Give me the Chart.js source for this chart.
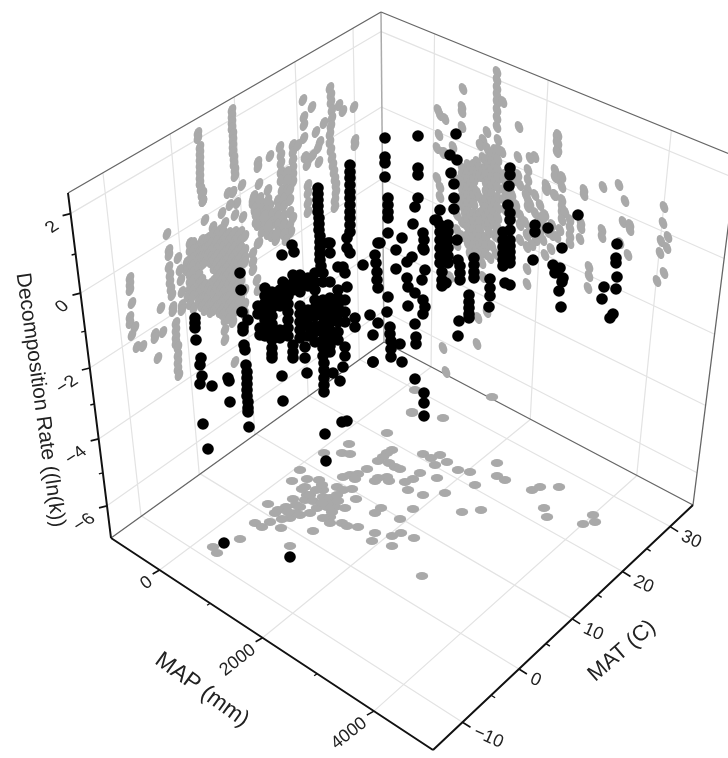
<!DOCTYPE html>
<html>
<head>
<meta charset="utf-8">
<title>Decomposition rate vs MAP and MAT</title>
<script src="https://cdn.jsdelivr.net/npm/chart.js@4"></script>
<style>
  html, body { margin: 0; padding: 0; background: #fff; overflow: hidden; }
  canvas { display: block; filter: blur(0.4px); }
</style>
</head>
<body>
<canvas id="chart" width="728" height="758"></canvas>
<script>
// axis ticks
const mapTicks = [0, 2000, 4000];
const mapMinorTicks = [1000, 3000];
const matTicks = [-10, 0, 10, 20, 30];
const matMinorTicks = [-5, 5, 15, 25];
const rateTicks = [2, 0, -2, -4, -6];
const rateMinorTicks = [1, -1, -3, -5];

// values, [across, down] in the drawing plane
const leftWallPoints = [
  [130,278],[130,284],[130,290],[132,303],[130,317],[130,323],[135,327],[132,335],[137,347],[143,346],
  [155,334],[155,338],[163,332],[158,358],[161,308],[167,234],[169,250],[169,255],[169,267],[170,275],
  [170,282],[171,289],[172,295],[173,307],[173,311],[176,323],[176,330],[176,337],[176,343],[178,347],
  [178,355],[178,362],[178,369],[179,375],[178,258],[180,270],[181,280],[182,292],[182,305],[182,310],
  [205,220],[222,213],[225,223],[235,215],[243,217],[237,203],[230,205],[233,192],[228,193],[203,193],
  [203,201],[213,227],[253,203],[255,210],[258,225],[258,243],[253,253],[253,262],[253,270],[257,280],
  [258,290],[225,320],[225,330],[225,340],[233,322],[235,362],[210,310],[198,133],[198,138],
  [200,147],[200,153],[200,159],[200,165],[200,171],[200,177],[200,183],[201,189],[202,195],[203,201],
  [232,110],[232,116],[232,122],[232,128],[233,134],[233,140],[233,146],[233,152],[234,158],[234,164],[235,170],[235,176],
  [242,185],[233,192],[258,162],[258,167],[270,156],[259,184],[268,190],[280,147],[281,155],[281,163],[281,172],[281,180],[282,190],
  [293,145],[293,152],[293,160],[293,168],[293,175],[293,182],[287,172],[287,180],[287,190],[287,198],
  [187,262],[187,270],[190,243],[190,250],[190,260],[190,267],[190,274],[190,281],[190,288],[188,296],[190,304],[194,308],
  [193,243],[193,250],[193,258],[193,265],[193,272],[193,280],[193,290],[193,296],
  [199,245],[199,252],[199,258],[199,266],[199,275],[199,283],[199,292],[199,300],
  [202,240],[202,250],[202,256],[202,280],[202,288],[202,298],[202,306],[203,264],
  [205,240],[205,248],[205,255],[205,262],[205,285],[205,296],[205,303],[205,310],
  [208,238],[208,246],[208,254],[208,288],[208,296],[208,306],
  [211,236],[211,243],[211,250],[211,257],[211,262],[211,283],[211,290],[211,303],[211,312],
  [214,232],[214,246],[214,258],[214,268],[214,280],[214,292],[214,302],[214,310],
  [217,234],[217,240],[217,248],[217,255],[217,262],[217,270],[217,278],[217,286],[217,298],[217,306],
  [220,230],[220,244],[220,258],[220,266],[220,274],[220,282],[220,290],[220,304],[220,312],
  [223,232],[223,240],[223,246],[223,254],[223,262],[223,270],[223,277],[223,285],[223,292],[223,300],[223,308],[223,314],
  [226,236],[226,250],[226,260],[226,268],[226,276],[226,288],[226,298],[226,310],
  [229,233],[229,240],[229,248],[229,256],[229,264],[229,272],[229,282],[229,296],[229,304],[229,312],[229,318],
  [232,236],[232,250],[232,258],[232,268],[232,276],[232,286],[232,300],[232,308],
  [235,232],[235,240],[235,246],[235,254],[235,262],[235,270],[235,278],[235,288],[235,296],[235,304],[235,312],
  [238,236],[238,250],[238,260],[238,272],[238,284],[238,294],[238,304],
  [241,232],[241,240],[241,248],[241,256],[241,264],[241,274],[241,282],[241,290],[241,300],[241,310],
  [245,236],[245,250],[245,258],[245,262],[245,290],[245,304],[245,314],
  [253,200],[255,208],[259,214],[262,204],[266,210],[266,218],[270,206],[272,214],[272,222],[278,200],
  [278,208],[278,216],[278,224],[278,232],[284,198],[284,206],[284,216],[284,224],[270,228],[290,190],
  [290,200],[290,212],[268,234],[272,236],[260,220],[264,226],[293,218],[290,225],[291,232],[259,243],
  [256,222],[262,232],[268,226],[276,240],[284,234],[254,196],[260,198],[268,200],[256,214],[264,216],[276,234],[286,240],
  [303,100],[312,107],[304,117],[304,125],[324,123],[316,132],[304,138],[298,145],
  [330,88],[331,95],[331,102],[332,110],[332,118],[331,126],[330,134],[330,142],[331,150],[332,158],[333,165],[334,172],[335,179],[336,185],[336,192],[335,200],[335,207],
  [339,105],[343,111],[354,107],[355,140],[355,145],[320,142],[318,148],[319,162],[310,158],[305,157],[313,155],[307,165],
  [308,185],[308,193],[308,203],[308,212]
];

const rightWallPoints = [
  [497,72],[497,80],[497,88],[497,95],[497,102],[497,110],[497,118],[497,127],[503,102],[463,89],
  [462,107],[462,112],[462,127],[438,110],[440,115],[445,119],[439,135],[453,147],[437,148],[445,153],
  [443,153],[519,127],[487,132],[483,140],[480,145],[487,148],[498,140],[502,152],[518,157],[535,157],
  [530,158],[528,170],[528,180],[528,190],[528,200],[528,207],[557,137],[557,143],[558,150],[555,170],
  [557,178],[547,187],[554,195],[437,178],[440,197],[440,187],
  [457,180],[457,200],[457,215],[457,230],[457,245],
  [462,168],[462,175],[462,182],[462,190],[462,198],[462,206],[462,222],[462,236],
  [465,170],[465,186],[465,200],[465,214],[465,224],
  [468,165],[468,172],[468,180],[468,188],[468,196],[468,204],[468,212],[468,220],[468,228],[468,236],[468,244],
  [471,168],[471,184],[471,200],[471,216],[471,232],[471,248],
  [474,165],[474,172],[474,180],[474,188],[474,196],[474,204],[474,214],[474,222],[474,230],[474,238],[474,246],
  [477,162],[477,176],[477,192],[477,218],[477,234],[477,250],
  [480,168],[480,176],[480,198],[480,214],[480,222],[480,230],[480,238],[480,246],[480,254],
  [483,158],[483,172],[483,204],[483,212],[483,244],[483,252],
  [486,160],[486,168],[486,175],[486,184],[486,192],[486,200],[486,208],[486,218],[486,226],[486,238],[486,246],[486,254],
  [489,152],[489,166],[489,182],[489,196],[489,214],[489,224],[489,232],
  [492,155],[492,162],[492,170],[492,178],[492,186],[492,194],[492,202],[492,210],[492,220],[492,246],
  [495,150],[495,166],[495,182],[495,204],[495,226],[495,236],
  [498,150],[498,160],[498,170],[498,178],[498,188],[498,198],[498,208],[498,218],[498,228],[498,238],
  [504,180],[504,190],[504,200],[490,258],[496,254],[470,254],
  [510,190],[515,180],[505,175],[508,195],[514,212],[520,225],[505,210],[510,200],[535,195],[540,205],[545,215],[552,225],[552,235],[540,232],[505,235],[520,240],[527,235],
  [518,175],[520,185],[526,195],[530,204],[535,213],[541,222],[548,232],[512,195],[516,205],[520,215],[525,222],[530,232],[536,240],
  [558,135],[558,143],[557,152],[555,177],[562,177],[562,187],[546,185],[546,190],[555,195],[562,200],
  [562,207],[562,213],[565,212],[562,220],[570,220],[570,228],[570,236],[570,243],[557,237],[560,230],
  [543,217],[543,240],[551,249],[545,255],[584,190],[584,195],[581,223],[581,228],[580,239],[603,187],
  [619,185],[625,201],[623,222],[630,225],[630,230],[602,230],[602,237],[628,255],[620,243],[589,267],
  [589,276],[588,288],[664,207],[663,223],[668,237],[661,241],[667,248],[660,253],[664,273],[657,281],
  [527,269],[527,284],[478,318],[487,312],[443,348],[477,344],[446,372],[532,245],[527,247],[483,277],[482,263],[450,277]
];

const floorPoints = [
  [412,413],[387,433],[349,444],[342,453],[350,454],[324,453],[423,454],[431,458],[435,465],[392,450],
  [387,453],[383,457],[378,461],[389,463],[395,467],[400,469],[420,473],[413,479],[405,482],[437,478],
  [367,469],[300,470],[292,481],[307,479],[319,480],[343,477],[350,475],[358,474],[355,479],[378,478],
  [375,481],[387,477],[389,481],[305,487],[302,489],[322,485],[323,490],[337,487],[343,490],[352,489],
  [408,490],[423,495],[307,495],[293,499],[305,500],[313,501],[323,497],[330,498],[337,495],[356,499],
  [268,504],[286,507],[278,510],[275,513],[300,507],[317,508],[327,507],[335,507],[345,508],[381,508],
  [375,513],[413,509],[300,515],[290,518],[282,519],[270,522],[255,523],[262,527],[281,528],[313,531],
  [330,517],[323,518],[330,523],[342,523],[347,526],[358,527],[400,519],[375,533],[401,533],[392,536],
  [414,538],[372,541],[392,546],[240,539],[213,547],[217,553],[290,546],[422,576],
  [310,495],[316,490],[328,503],[322,503],[310,513],[296,513],[288,512],[296,505],[338,501],[332,512],
  [445,493],[462,512],[481,510],[532,490],[540,487],[559,487],[544,508],[547,517],[583,524],[593,515],[595,522],
  [440,455],[447,462],[458,470],[470,472],[497,463],[497,476],[475,485],[505,480],
  [415,390],[412,412],[443,418],[492,397]
];

const measuredPoints = [
  [195,318],[195,323],[195,328],[196,340],[201,358],[200,365],[202,376],[200,384],[212,386],[228,378],
  [229,381],[230,402],[203,424],[208,449],[224,543],[290,557],
  [240,273],[241,290],[242,312],[248,320],[243,327],[243,331],[244,345],[245,350],
  [246,365],[247,372],[247,378],[247,384],[247,390],[247,396],[248,402],[248,408],[248,412],[249,427],
  [282,376],[283,401],[307,373],[333,373],[340,381],[343,367],[325,434],[342,422],[347,421],[326,461],
  [373,362],[370,315],[373,335],[363,265],[378,243],[282,255],[292,245],[294,252],
  [258,306],[258,314],[260,328],[260,335],
  [265,288],[265,296],[265,303],[265,312],[265,320],[265,328],[265,336],
  [272,292],[272,300],[272,308],[272,316],[272,324],[272,332],[272,340],[272,348],[272,354],[272,358],
  [280,290],[280,298],[280,306],[280,330],[280,338],[283,282],
  [288,288],[288,296],[288,304],[288,312],[288,320],[288,328],[288,336],
  [293,275],[293,283],[293,290],[293,345],[293,352],[293,358],
  [300,275],[300,284],[300,292],[300,306],[300,314],[300,322],[300,330],[300,338],[305,347],[305,358],
  [308,278],[308,286],[308,310],[308,318],[308,326],[308,336],
  [315,273],[315,282],[315,290],[315,300],[315,308],[315,316],[315,326],[315,332],[315,342],
  [323,273],[323,282],[323,300],[323,308],[323,316],[323,324],[323,332],[323,340],[323,348],[323,356],
  [324,363],[324,370],[324,378],[324,385],[324,392],
  [330,282],[330,298],[330,306],[330,314],[330,322],[330,330],[330,338],[330,346],[330,352],
  [338,290],[338,298],[338,306],[338,314],[338,322],[338,332],[338,340],[345,300],[345,312],[345,322],[345,347],[345,356],
  [355,318],[355,327],
  [318,188],[318,194],[318,200],[318,206],[318,212],[319,218],[319,224],[319,230],[320,236],[320,242],[320,248],[320,254],[320,260],[321,266],
  [350,165],[350,172],[350,178],[350,185],[350,192],[350,198],[350,205],[350,212],[350,218],[350,225],[350,232],[347,238],[347,248],
  [330,243],[328,243],[330,253],[350,253],[343,267],[345,273],[347,287],[338,267],
  [385,138],[385,157],[385,163],[385,177],[418,136],[418,168],[418,175],[456,134],[450,155],[457,160],
  [451,173],[454,184],[454,198],[454,209],[388,198],[388,205],[388,212],[388,218],[418,198],[415,207],
  [413,224],[388,233],[380,243],[402,238],[396,250],[375,255],[412,257],[423,248],[437,220],[440,210],
  [510,168],[510,175],[509,186],[508,205],[510,213],[510,220],[503,232],[510,230],[535,225],[535,232],[548,228],[533,260],
  [578,215],[562,248],[553,265],[560,268],[555,273],[563,278],[562,282],[559,291],[561,307],[617,244],
  [616,258],[616,263],[617,277],[616,289],[604,287],[602,299],[613,314],[610,318],
  [376,263],[377,272],[377,280],[378,288],[388,297],[387,312],[378,323],
  [390,327],[390,334],[391,341],[391,349],[391,357],[400,344],[373,362],[402,362],
  [407,262],[396,269],[425,270],[422,280],[407,278],[408,287],[415,293],[423,300],[408,306],[425,307],
  [423,314],[415,324],[416,337],[416,344],[415,379],[424,393],[424,403],[424,416],[424,240],[424,250],[423,233],[435,220],
  [440,225],[440,232],[440,240],[440,248],[440,256],[440,263],[448,225],[448,232],[448,240],[448,248],[448,256],[448,263],
  [442,272],[442,280],[442,286],[446,283],[457,240],[458,260],[460,266],[460,273],[460,280],
  [474,258],[474,265],[474,272],[474,278],[490,279],[490,288],[490,296],[489,307],
  [469,295],[469,302],[469,308],[469,314],[469,318],[459,321],[458,336],[505,283],[510,285],
  [503,240],[503,247],[503,254],[503,260],[503,266],[510,240],[510,246],[510,252],[510,258],[510,263]
];

// drawing plane geometry of the box
const X = 728, Y = 758;
const floorFront = [433, 750], floorLeft = [111, 538], floorRight = [693, 505], floorBack = [384, 342];
const topLeft = [68, 193], topBack = [381, 12], topRight = [737, 157];
const mapRange = [-1000, 5000], matRange = [-15, 35], rateRange = [-7, 2.5];

// homography from the unit square onto a quad
function quadMap(p00, p10, p11, p01) {
  const dx1 = p10[0] - p11[0], dx2 = p01[0] - p11[0], sx = p00[0] - p10[0] + p11[0] - p01[0];
  const dy1 = p10[1] - p11[1], dy2 = p01[1] - p11[1], sy = p00[1] - p10[1] + p11[1] - p01[1];
  const den = dx1 * dy2 - dx2 * dy1;
  const g = (sx * dy2 - dx2 * sy) / den, h = (dx1 * sy - sx * dy1) / den;
  const a = p10[0] - p00[0] + g * p10[0], b = p01[0] - p00[0] + h * p01[0];
  const d = p10[1] - p00[1] + g * p10[1], e = p01[1] - p00[1] + h * p01[1];
  return function(u, v) {
    const w = g * u + h * v + 1;
    return { x: (a * u + b * v + p00[0]) / w, y: (d * u + e * v + p00[1]) / w };
  };
}

const floorMap = quadMap(floorLeft, floorFront, floorRight, floorBack);
const leftMap = quadMap(floorLeft, floorBack, topBack, topLeft);
const rightMap = quadMap(floorBack, floorRight, topRight, topBack);

const fMap = v => (v - mapRange[0]) / (mapRange[1] - mapRange[0]);
const fMat = v => (v - matRange[0]) / (matRange[1] - matRange[0]);
const fRate = v => (v - rateRange[0]) / (rateRange[1] - rateRange[0]);

function lineSet(segments, color, width, order) {
  const data = [];
  segments.forEach(s => { data.push(s[0], s[1], { x: NaN, y: NaN }); });
  return { type: 'scatter', data: data, showLine: true, spanGaps: false, borderColor: color, borderWidth: width,
    pointRadius: 0, order: order, clip: false };
}

function tickSegs(values, at, dx, dy) {
  return values.map(v => { const p = at(v); return [p, { x: p.x + dx, y: p.y + dy }]; });
}

const gridSegs = [];
mapTicks.forEach(v => {
  gridSegs.push([floorMap(fMap(v), 0), floorMap(fMap(v), 1)]);
  gridSegs.push([rightMap(fMap(v), 0), rightMap(fMap(v), 1)]);
});
matTicks.forEach(v => {
  gridSegs.push([floorMap(0, fMat(v)), floorMap(1, fMat(v))]);
  gridSegs.push([leftMap(fMat(v), 0), leftMap(fMat(v), 1)]);
});
rateTicks.forEach(v => {
  gridSegs.push([leftMap(0, fRate(v)), leftMap(1, fRate(v))]);
  gridSegs.push([rightMap(0, fRate(v)), rightMap(1, fRate(v))]);
});

const P = a => ({ x: a[0], y: a[1] });
const toXY = list => list.map(P);

const mapAt = v => floorMap(fMap(v), 0);
const matAt = v => floorMap(1, fMat(v));
const rateAt = v => leftMap(0, fRate(v));

function sprite(rx, ry, angle) {
  const c = document.createElement('canvas');
  c.width = 16; c.height = 16;
  const g = c.getContext('2d');
  g.fillStyle = '#a9a9a9';
  g.beginPath();
  g.ellipse(8, 8, rx, ry, angle, 0, Math.PI * 2);
  g.fill();
  return c;
}

function greySet(list, style) {
  return { data: toXY(list), pointStyle: style, pointRadius: 6, pointBorderWidth: 0, order: 30, clip: false };
}

const labelPlugin = {
  id: 'labels',
  afterDraw(chart) {
    const ctx = chart.ctx;
    function put(text, x, y, m, align, font) {
      ctx.save();
      ctx.setTransform(m[0], m[1], m[2], m[3], x, y);
      ctx.font = font;
      ctx.textAlign = align;
      ctx.textBaseline = 'middle';
      ctx.fillStyle = '#222';
      ctx.fillText(text, 0, 0);
      ctx.restore();
    }
    const rot = deg => { const r = deg * Math.PI / 180; return [Math.cos(r), Math.sin(r), -Math.sin(r), Math.cos(r)]; };
    const tickFont = '18px "Liberation Sans"';
    mapTicks.forEach(v => { const p = mapAt(v); put(String(v), p.x - 9, p.y + 10, rot(-38), 'right', tickFont); });
    matTicks.forEach(v => { const p = matAt(v); put(String(v).replace('-', '\u2212'), p.x + 12, p.y + 9, rot(24), 'left', tickFont); });
    rateTicks.forEach(v => { const p = rateAt(v); put(String(v).replace('-', '\u2212'), p.x - 14, p.y + 11, [0.85, -0.55, 0.7, 0.7], 'right', tickFont); });
    put('Decomposition Rate ((ln(k))', 40, 400, rot(82), 'center', '21px "Liberation Sans"');
    put('MAP (mm)', 202, 690, rot(36), 'center', '23px "Liberation Sans"');
    put('MAT (C)', 622, 651, rot(-41), 'center', '22px "Liberation Sans"');
  }
};

new Chart(document.getElementById('chart'), {
  type: 'scatter',
  data: {
    datasets: [
      { data: toXY(measuredPoints), pointRadius: 5.8, backgroundColor: '#000', pointBorderWidth: 0, order: 10, clip: false },
      greySet(leftWallPoints, sprite(3.9, 6.3, 0.4)),
      greySet(rightWallPoints, sprite(3.9, 6.3, -0.4)),
      greySet(floorPoints, sprite(6.2, 4, 0)),
      lineSet([[P(floorLeft), P(floorFront)], [P(floorFront), P(floorRight)], [P(floorLeft), P(topLeft)]], '#111', 2, 20),
      lineSet(tickSegs(mapTicks, mapAt, -7, 4).concat(tickSegs(matTicks, matAt, 8, 5), tickSegs(rateTicks, rateAt, -8, 2)), '#111', 1.6, 20),
      lineSet(tickSegs(mapMinorTicks, mapAt, -3, 2).concat(tickSegs(matMinorTicks, matAt, 4, 2.5), tickSegs(rateMinorTicks, rateAt, -4, 1)), '#111', 1.4, 20),
      lineSet([[P(floorLeft), P(floorBack)], [P(floorBack), P(floorRight)], [P(topLeft), P(topBack)], [P(topBack), P(topRight)], [P(floorRight), P(topRight)]], '#666', 1.3, 40),
      lineSet([[P(floorBack), P(topBack)]], '#aaa', 1.5, 40),
      lineSet(gridSegs, '#e3e3e3', 1.2, 50)
    ]
  },
  options: {
    responsive: false,
    animation: false,
    events: [],
    layout: { autoPadding: false, padding: 0 },
    plugins: { legend: { display: false }, tooltip: { enabled: false } },
    scales: {
      x: { type: 'linear', display: false, min: 0, max: X },
      y: { type: 'linear', display: false, min: 0, max: Y, reverse: true }
    }
  },
  plugins: [labelPlugin]
});
</script>
</body>
</html>
